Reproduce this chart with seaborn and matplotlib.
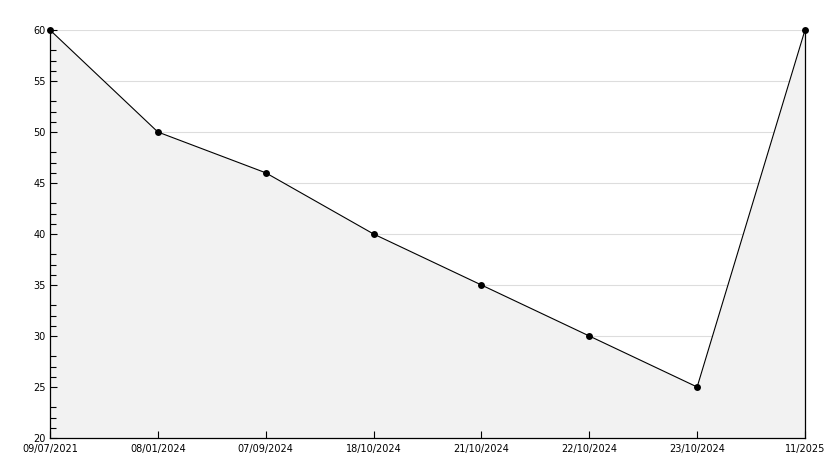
import numpy as np
import pandas as pd
import seaborn as sns
import matplotlib.pyplot as plt
from matplotlib.ticker import MultipleLocator, FixedLocator

dates = ["09/07/2021", "08/01/2024", "07/09/2024", "18/10/2024",
         "21/10/2024", "22/10/2024", "23/10/2024", "11/2025"]
values = [60, 50, 46, 40, 35, 30, 25, 60]
grid_levels = [25, 30, 35, 40, 45, 50, 55, 60]
# the original only shows three small ticks between labelled values
minor_levels = [v for v in range(21, 60) if v % 5 in (1, 2, 3)]

df = pd.DataFrame({"pos": np.arange(len(dates)), "value": values})

sns.set_style("white")
plt.rcParams["font.family"] = ["DejaVu Sans"]

fig = plt.figure(figsize=(8.34, 4.68), dpi=100)
ax = fig.add_axes([50 / 834, 30 / 468, 755 / 834, 408 / 468])

# grid sits under the shaded area, ticks sit above it
for g in grid_levels:
    ax.axhline(g, color="#dddddd", lw=0.8, zorder=0.2)
ax.fill_between(df["pos"], df["value"], 20, color="#f2f2f2", lw=0, zorder=1)
sns.lineplot(data=df, x="pos", y="value", ax=ax, color="black", lw=0.8,
             marker="o", markersize=5, markeredgewidth=0, zorder=3, clip_on=False)

ax.set_xlim(0, len(dates) - 1)
ax.set_ylim(20, 60)
ax.set_xticks(df["pos"])
ax.set_xticklabels(dates)
ax.yaxis.set_major_locator(MultipleLocator(5))
ax.yaxis.set_minor_locator(FixedLocator(minor_levels))
ax.grid(False)
ax.set_axisbelow(False)

ax.tick_params(axis="both", which="major", direction="in", length=5, width=0.8,
               labelsize=7, color="black", labelcolor="black")
ax.tick_params(axis="y", which="both", left=True, direction="in", color="black")
ax.tick_params(axis="y", which="minor", length=4, width=0.8)
ax.tick_params(axis="y", which="major", pad=3)
ax.tick_params(axis="x", bottom=True, pad=4)

for side in ["left", "bottom", "right"]:
    ax.spines[side].set_color("black")
    ax.spines[side].set_linewidth(0.9)
ax.spines["top"].set_visible(False)

ax.set_xlabel("")
ax.set_ylabel("")

fig.savefig("out.png", dpi=100)
